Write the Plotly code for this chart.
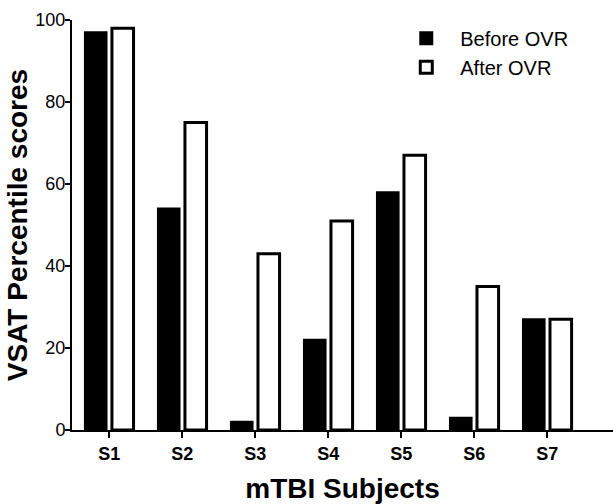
import plotly.graph_objects as go

subjects = ["S1", "S2", "S3", "S4", "S5", "S6", "S7"]
before_ovr = [97, 54, 2, 22, 58, 3, 27]
after_ovr = [98, 75, 43, 51, 67, 35, 27]
y_ticks = [0, 20, 40, 60, 80, 100]

FONT = "Arial, Liberation Sans, sans-serif"

fig = go.Figure()
fig.add_trace(go.Bar(x=subjects, y=before_ovr, name="Before OVR",
                     marker=dict(color="black", line=dict(color="black", width=2))))
fig.add_trace(go.Bar(x=subjects, y=after_ovr, name="After OVR",
                     marker=dict(color="white", line=dict(color="black", width=3))))

fig.update_layout(
    width=613, height=504,
    margin=dict(l=72, r=0, t=20, b=74),
    paper_bgcolor="white", plot_bgcolor="white",
    barmode="group", bargap=0.26, bargroupgap=0.2,
    font=dict(family=FONT, color="black"),
    legend=dict(x=0.592, y=1.003, xanchor="left", yanchor="top",
                font=dict(size=20, family=FONT), bgcolor="rgba(0,0,0,0)",
                itemwidth=58, tracegroupgap=0),
    xaxis=dict(
        range=[-0.51, 6.9], showline=True, linecolor="black", linewidth=2,
        ticks="outside", ticklen=6, tickwidth=2, tickcolor="black",
        tickfont=dict(size=18), ticklabelstandoff=0,
        title=dict(text="<b>mTBI Subjects</b>", font=dict(size=28), standoff=22),
        showgrid=False, zeroline=False,
    ),
    yaxis=dict(
        range=[0, 100], tickvals=y_ticks, showline=True, linecolor="black", linewidth=2,
        ticks="outside", ticklen=5, tickwidth=2, tickcolor="black",
        tickfont=dict(size=18), ticklabelstandoff=-4,
        title=dict(text="<b>VSAT Percentile scores</b>", font=dict(size=28), standoff=0),
        showgrid=False, zeroline=False,
    ),
)
fig.update_xaxes(tickprefix="<b>", ticksuffix="</b>")
fig.update_yaxes(tickprefix="<b>", ticksuffix="</b>")

fig.write_html("out.html")
